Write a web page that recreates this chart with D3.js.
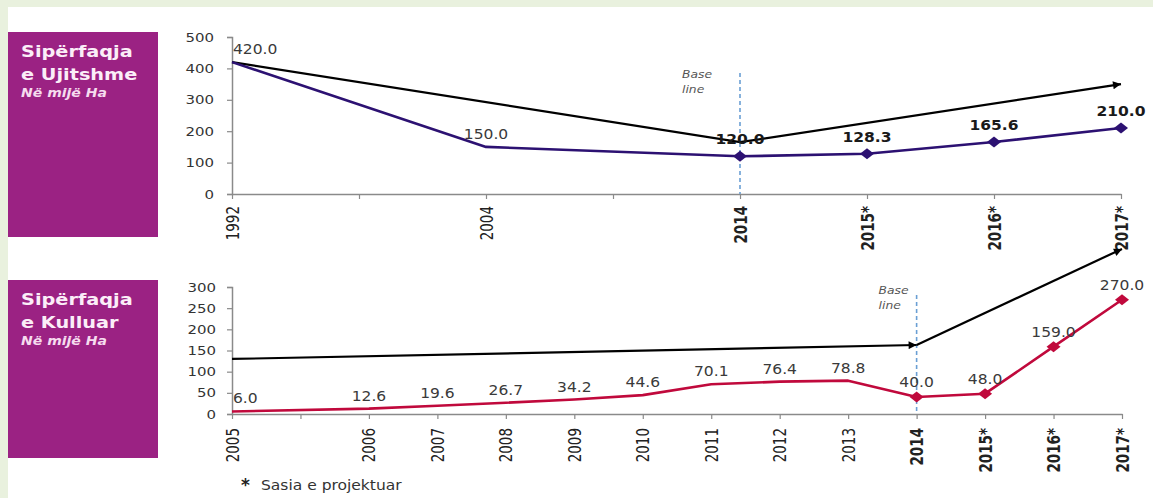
<!DOCTYPE html>
<html><head><meta charset="utf-8">
<script src="https://cdn.jsdelivr.net/npm/d3@7"></script>
<style>body{margin:0;background:#fff;overflow:hidden}</style>
</head><body>
<svg id="c" width="1153" height="498"></svg>
<script>
// ---------- DATA ----------
const topCats = ["1992", "", "2004", "", "2014", "2015*", "2016*", "2017*"];
const topVals = [420.0, null, 150.0, null, 120.0, 128.3, 165.6, 210.0];
const topTrend = [{cat: "1992", v: 420}, {cat: "2014", v: 165}, {cat: "2017*", v: 350}];
const topYTicks = [0, 100, 200, 300, 400, 500];

const botCats = ["2005", "", "2006", "2007", "2008", "2009", "2010", "2011", "2012", "2013", "2014", "2015*", "2016*", "2017*"];
const botVals = [6.0, null, 12.6, 19.6, 26.7, 34.2, 44.6, 70.1, 76.4, 78.8, 40.0, 48.0, 159.0, 270.0];
const botTrend1 = [{cat: "2005", v: 130}, {cat: "2014", v: 163}];
const botTrend2 = [{cat: "2014", v: 163}, {cat: "2017*", v: 390}];
const botYTicks = [0, 50, 100, 150, 200, 250, 300];

const markedCats = ["2014", "2015*", "2016*", "2017*"];
const baseCat = "2014";
const topTitle = ["Sipërfaqja", "e Ujitshme"];
const botTitle = ["Sipërfaqja", "e Kulluar"];
const unitText = "Në mijë Ha";
const baseText = ["Base", "line"];
const footnote = "Sasia e projektuar";

// ---------- DRAW ----------
const SX = 1.15;
const svg = d3.select("#c");
const FONT = "'DejaVu Sans', Verdana, sans-serif";
const NARROW = "'Liberation Sans Narrow', 'DejaVu Sans Condensed', 'Arial Narrow', sans-serif";

// page frame
svg.append("rect").attr("x", 0).attr("y", 0).attr("width", 1153).attr("height", 7).attr("fill", "#e9f1de");
svg.append("rect").attr("x", 0).attr("y", 0).attr("width", 8).attr("height", 498).attr("fill", "#e9f1de");

const defs = svg.append("defs");
defs.append("marker").attr("id", "arr").attr("viewBox", "0 0 10 10")
  .attr("refX", 10).attr("refY", 5).attr("markerWidth", 10).attr("markerHeight", 8)
  .attr("markerUnits", "userSpaceOnUse").attr("orient", "auto")
  .append("path").attr("d", "M0,0 L10,5 L0,10 Z").attr("fill", "#000");

function hText(g, x, y, str, o = {}) {
  return g.append("text")
    .attr("transform", `translate(${x},${y}) scale(${o.sx || SX},1)`)
    .attr("text-anchor", o.anchor || "start")
    .attr("font-family", o.family || FONT)
    .attr("font-size", o.size || 13)
    .attr("font-weight", o.weight || "normal")
    .attr("font-style", o.style || "normal")
    .attr("fill", o.fill || "#333")
    .text(str);
}

function titleBox(y0, h, lines) {
  svg.append("rect").attr("x", 8).attr("y", y0).attr("width", 150).attr("height", h).attr("fill", "#9b2283");
  hText(svg, 21, y0 + 25, lines[0], {size: 16.5, weight: "bold", fill: "#fbeef8", sx: 1.17});
  hText(svg, 21, y0 + 48, lines[1], {size: 16.5, weight: "bold", fill: "#fbeef8", sx: 1.17});
  hText(svg, 21, y0 + 65, unitText, {size: 12, weight: "bold", style: "italic", fill: "#f6dcef", sx: 1.17});
}
titleBox(32, 205, topTitle);
titleBox(280, 178, botTitle);

function drawChart(cfg) {
  const g = svg.append("g");
  const idx = d3.range(cfg.cats.length);
  const x = d3.scalePoint().domain(idx).range(cfg.xRange);
  const y = d3.scaleLinear().domain(cfg.yDomain).range(cfg.yRange);
  const xc = c => x(cfg.cats.indexOf(c));
  const boldIdx = cfg.cats.indexOf(baseCat);

  // y axis
  const ya = g.append("g").attr("transform", `translate(${cfg.xRange[0]},0)`)
    .call(d3.axisLeft(y).tickValues(cfg.yTicks).tickSize(5).tickPadding(cfg.yPad).tickFormat(d3.format("d")));
  ya.select(".domain").attr("stroke", "#8a8a8a").attr("stroke-width", 1.5);
  ya.selectAll(".tick line").attr("stroke", "#8a8a8a").attr("stroke-width", 1.2);
  ya.selectAll(".tick text").each(function () {
    const t = d3.select(this);
    const xx = +t.attr("x");
    t.attr("x", xx / SX).attr("transform", `scale(${SX},1)`)
     .attr("font-family", FONT).attr("font-size", 13).attr("fill", "#333");
  });

  // x axis
  const xa = g.append("g").attr("transform", `translate(0,${cfg.yRange[0]})`)
    .call(d3.axisBottom(x).tickSize(5).tickPadding(6).tickFormat(i => cfg.cats[i]).tickSizeOuter(0));
  xa.select(".domain").attr("stroke", "#8a8a8a").attr("stroke-width", 1.5);
  xa.selectAll(".tick line").attr("stroke", "#8a8a8a").attr("stroke-width", 1.2);
  xa.selectAll(".tick text")
    .attr("transform", "rotate(-90) scale(1,1.12)")
    .attr("text-anchor", "end").attr("x", -cfg.xPad).attr("y", 0).attr("dy", "0.36em")
    .attr("font-family", NARROW).attr("font-size", 15).attr("fill", "#222")
    .attr("font-weight", i => i >= boldIdx ? "bold" : "normal");

  // base line
  const bx = xc(baseCat);
  g.append("line").attr("x1", bx).attr("x2", bx).attr("y1", y(cfg.baseTop)).attr("y2", cfg.yRange[0])
    .attr("stroke", "#6a9fd4").attr("stroke-width", 1.6).attr("stroke-dasharray", "4,3");
  hText(g, bx + cfg.baseDx, cfg.baseY, baseText[0], {size: 11, style: "italic", fill: "#555", sx: 1.12});
  hText(g, bx + cfg.baseDx, cfg.baseY + 15, baseText[1], {size: 11, style: "italic", fill: "#555", sx: 1.12});

  // trend arrows
  const tl = d3.line().x(d => xc(d.cat)).y(d => y(d.v));
  cfg.trends.forEach(tr => {
    g.append("path").attr("d", tl(tr)).attr("fill", "none").attr("stroke", "#000")
      .attr("stroke-width", 2.2).attr("marker-end", "url(#arr)");
  });

  // series line (connect defined points)
  const pts = idx.filter(i => cfg.vals[i] != null).map(i => ({i, v: cfg.vals[i]}));
  g.append("path").attr("d", d3.line().x(d => x(d.i)).y(d => y(d.v))(pts))
    .attr("fill", "none").attr("stroke", cfg.color).attr("stroke-width", 2.6).attr("stroke-linejoin", "round");

  // markers
  pts.filter(d => markedCats.includes(cfg.cats[d.i])).forEach(d => {
    g.append("path").attr("d", "M0,-5.5 L7,0 L0,5.5 L-7,0 Z")
      .attr("transform", `translate(${x(d.i)},${y(d.v)})`).attr("fill", cfg.color);
  });

  // labels
  pts.forEach((d, k) => {
    const marked = markedCats.includes(cfg.cats[d.i]);
    const px = x(d.i), py = y(d.v) - (marked ? cfg.offM : 8);
    const first = k === 0;
    hText(g, first ? px + 1 : px, py, d.v.toFixed(1), {
      anchor: first ? "start" : "middle", size: 13.5,
      weight: cfg.boldLabels && d.i >= boldIdx ? "bold" : "normal",
      fill: cfg.boldLabels && d.i >= boldIdx ? "#1a1a1a" : "#3a3a3a"
    });
  });
}

drawChart({
  cats: topCats, vals: topVals, trends: [topTrend], yDomain: [0, 500], yTicks: topYTicks,
  yRange: [194, 37], xRange: [232, 1121], yPad: 13, xPad: 12, color: "#2c1172", boldLabels: true,
  baseTop: 385, baseDx: -58, baseY: 78, offM: 12
});
drawChart({
  cats: botCats, vals: botVals, trends: [botTrend1, botTrend2], yDomain: [0, 300], yTicks: botYTicks,
  yRange: [414, 287], xRange: [232, 1122], yPad: 11, xPad: 14, color: "#c0093c", boldLabels: false,
  baseTop: 281, baseDx: -38, baseY: 294, offM: 10
});

// footnote
hText(svg, 241, 491, "*", {size: 17, weight: "bold", fill: "#222", sx: 1});
hText(svg, 261, 490, footnote, {size: 13.5, fill: "#333"});
</script>
</body></html>
